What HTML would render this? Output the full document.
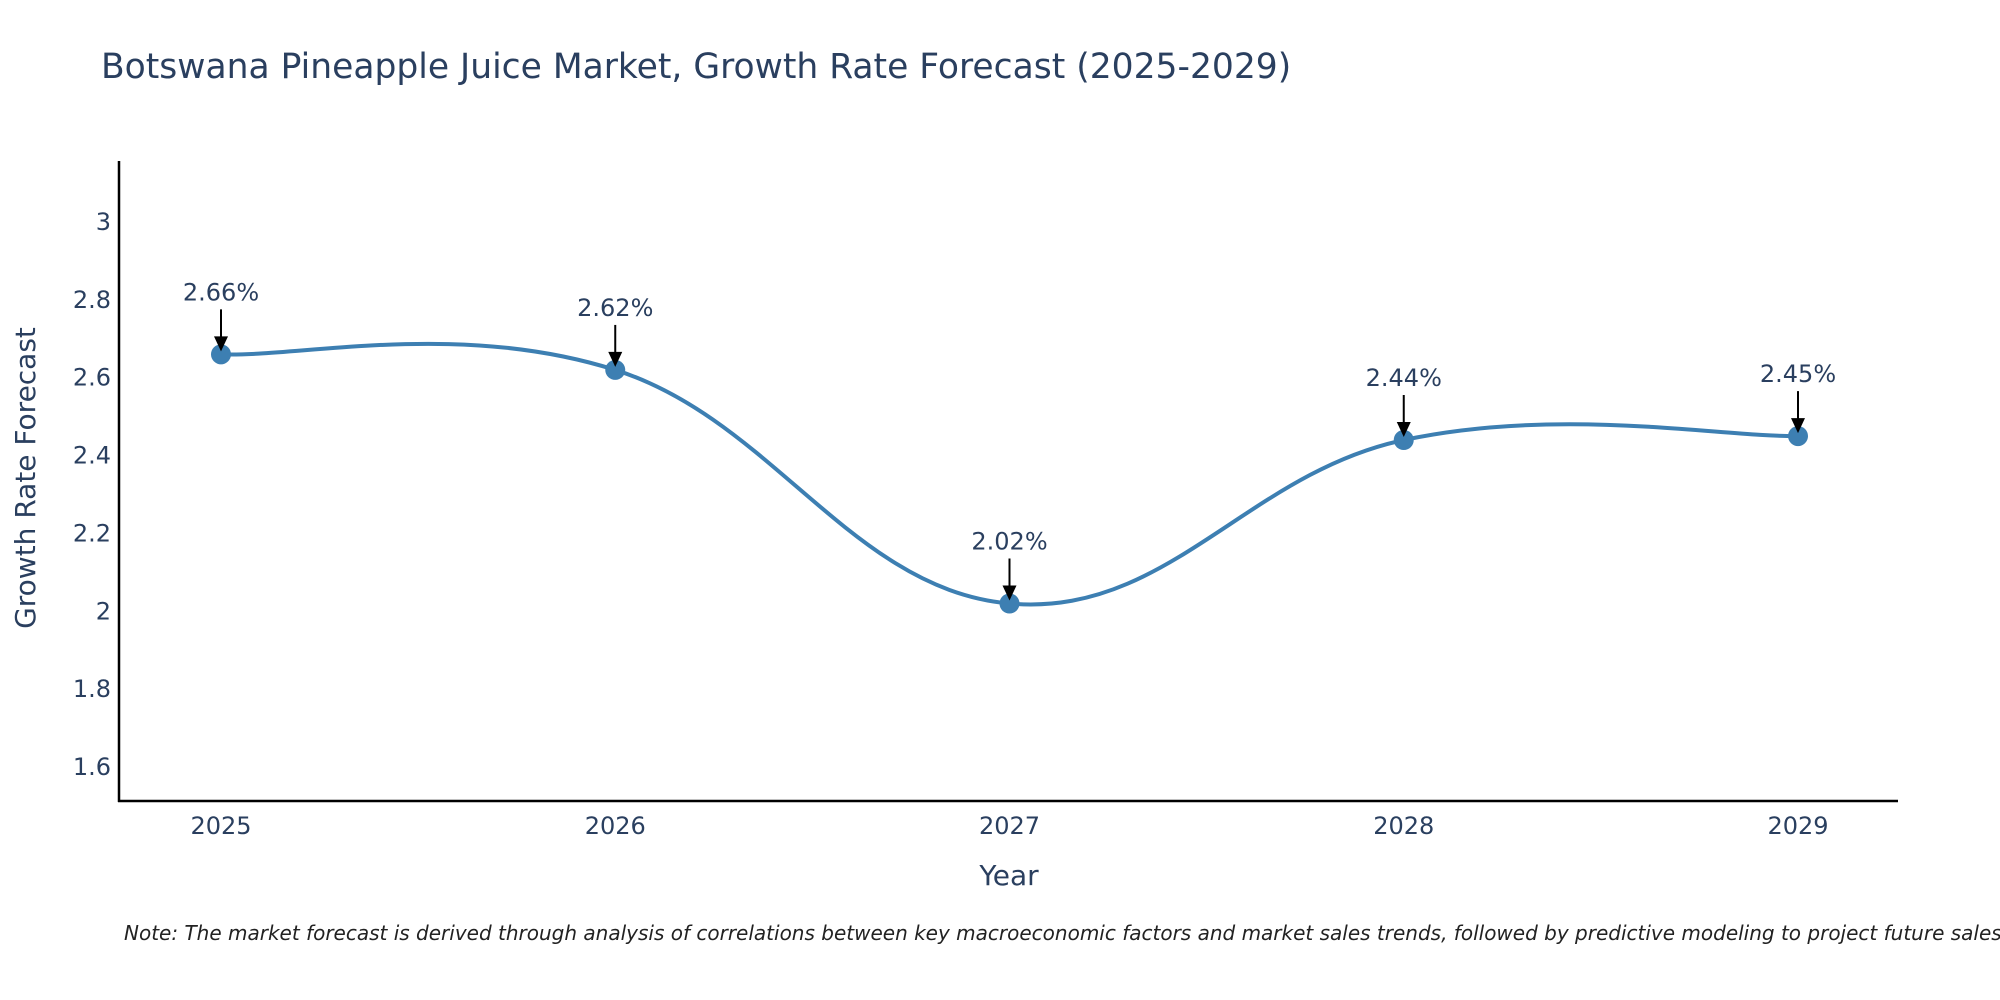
<!DOCTYPE html>
<html><head><meta charset="utf-8"><style>
html,body{margin:0;padding:0;background:#fff;}
svg{display:block;font-family:"DejaVu Sans","Liberation Sans",sans-serif;}
</style></head><body>
<svg id="chart" width="2000" height="1000" viewBox="0 0 2000 1000" xmlns="http://www.w3.org/2000/svg">
<text x="101" y="78" font-size="34.5" fill="#2a3f5f">Botswana Pineapple Juice Market, Growth Rate Forecast (2025-2029)</text>
<g id="yticks"></g>
<g id="xticks"></g>
<line x1="119" y1="161" x2="119" y2="802" stroke="#000" stroke-width="2.5"/>
<line x1="118" y1="801" x2="1898" y2="801" stroke="#000" stroke-width="2.5"/>
<g id="series"></g>
<g id="annots"></g>
<text transform="translate(35,478) rotate(-90)" text-anchor="middle" font-size="28" fill="#2a3f5f">Growth Rate Forecast</text>
<text x="1009" y="885" text-anchor="middle" font-size="28" fill="#2a3f5f">Year</text>
<text x="124" y="940" font-size="20" font-style="italic" fill="#222">Note: The market forecast is derived through analysis of correlations between key macroeconomic factors and market sales trends, followed by predictive modeling to project future sales.</text>
</svg>
<script>
const years = [2025, 2026, 2027, 2028, 2029];
const values = [2.66, 2.62, 2.02, 2.44, 2.45];
const labels = ["2.66%", "2.62%", "2.02%", "2.44%", "2.45%"];
const yTickValues = [1.6, 1.8, 2, 2.2, 2.4, 2.6, 2.8, 3];
const yTickLabels = ["1.6", "1.8", "2", "2.2", "2.4", "2.6", "2.8", "3"];

const NS = "http://www.w3.org/2000/svg";
function xS(v){ return 221 + (v - 2025) * (1798 - 221) / 4; }
function yS(v){ return 767 - (v - 1.6) * (767 - 222) / 1.4; }
function mk(tag, attrs, parent){ const e = document.createElementNS(NS, tag); for (const k in attrs) e.setAttribute(k, attrs[k]); parent.appendChild(e); return e; }

const yt = document.getElementById('yticks');
yTickValues.forEach((v, i) => {
  const t = mk('text', {x: 111, y: yS(v) + 8, 'text-anchor': 'end', 'font-size': 24, fill: '#2a3f5f'}, yt);
  
  
  t.textContent = yTickLabels[i];
});
const xt = document.getElementById('xticks');
years.forEach(y => {
  const t = mk('text', {x: xS(y), y: 834, 'text-anchor': 'middle', 'font-size': 24, fill: '#2a3f5f'}, xt);
  
  
  t.textContent = String(y);
});

const pts = years.map((y, i) => [xS(y), yS(values[i])]);
let d = `M${pts[0][0]},${pts[0][1]}`;
const s = 0.2;
for (let i = 0; i < pts.length - 1; i++) {
  const p0 = pts[Math.max(0, i - 1)], p1 = pts[i], p2 = pts[i + 1], p3 = pts[Math.min(pts.length - 1, i + 2)];
  const c1 = [p1[0] + (p2[0] - p0[0]) * s, p1[1] + (p2[1] - p0[1]) * s];
  const c2 = [p2[0] - (p3[0] - p1[0]) * s, p2[1] - (p3[1] - p1[1]) * s];
  d += ` C${c1[0]},${c1[1]} ${c2[0]},${c2[1]} ${p2[0]},${p2[1]}`;
}
const ser = document.getElementById('series');
const line = mk('path', {d: d, fill: 'none', stroke: '#3d7fb2', 'stroke-width': 4}, ser);


pts.forEach(p => {
  const c = mk('circle', {cx: p[0], cy: p[1], r: 10, fill: '#3d7fb2'}, ser);
  
  
});

const an = document.getElementById('annots');
pts.forEach((p, i) => {
  const g = mk('g', {}, an);
  
  
  const tip = p[1] - 3;
  mk('line', {x1: p[0], y1: tip - 42, x2: p[0], y2: tip - 12, stroke: '#000', 'stroke-width': 2}, g);
  mk('polygon', {points: `${p[0]-7},${tip-15} ${p[0]+7},${tip-15} ${p[0]},${tip}`, fill: '#000'}, g);
  const t = mk('text', {x: p[0], y: tip - 51, 'text-anchor': 'middle', 'font-size': 24, fill: '#2a3f5f'}, g);
  t.textContent = labels[i];
});
</script>
</body></html>
